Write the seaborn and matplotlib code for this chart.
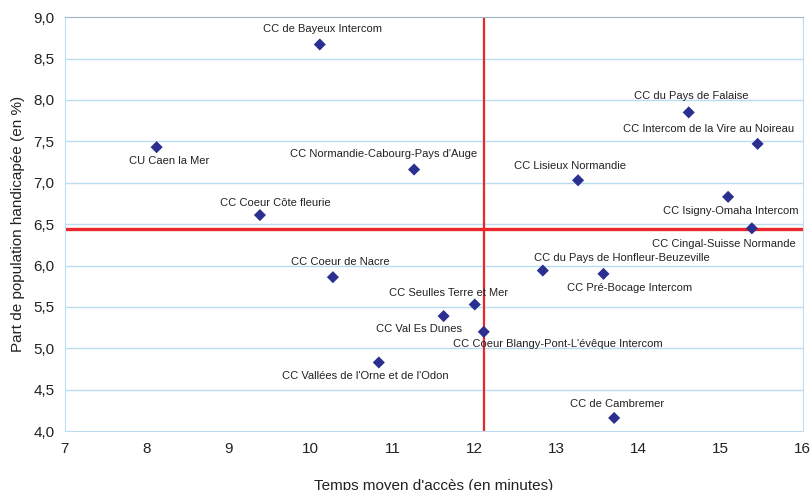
import seaborn as sns
import matplotlib.pyplot as plt
import pandas as pd
from matplotlib.ticker import FuncFormatter

# données : temps moyen d'accès (min) et part de population handicapée (%)
noms = [
    "CC de Bayeux Intercom", "CU Caen la Mer", "CC du Pays de Falaise",
    "CC Intercom de la Vire au Noireau", "CC Normandie-Cabourg-Pays d'Auge",
    "CC Lisieux Normandie", "CC Isigny-Omaha Intercom", "CC Coeur Côte fleurie",
    "CC Cingal-Suisse Normande", "CC Coeur de Nacre",
    "CC du Pays de Honfleur-Beuzeville", "CC Pré-Bocage Intercom",
    "CC Seulles Terre et Mer", "CC Val Es Dunes",
    "CC Coeur Blangy-Pont-L'évêque Intercom",
    "CC Vallées de l'Orne et de l'Odon", "CC de Cambremer",
]
temps = [10.11, 8.12, 14.61, 15.45, 11.26, 13.26, 15.09, 9.38, 15.38, 10.27,
         12.83, 13.57, 12.00, 11.62, 12.11, 10.83, 13.70]
part = [8.67, 7.43, 7.85, 7.47, 7.16, 7.03, 6.83, 6.61, 6.45, 5.86,
        5.94, 5.90, 5.53, 5.39, 5.20, 4.83, 4.16]
moy_temps = 12.11
moy_part = 6.44

# décalage des étiquettes (en points)
decalage = [(2, 11), (9, -10), (2, 12), (-35, 11), (-22, 11), (-6, 10), (2, -10),
            (11, 9), (-20, -11), (5, 11), (57, 9), (19, -10), (-19, 8), (-18, -9),
            (53, -9), (-10, -10), (2, 10)]

df = pd.DataFrame({"nom": noms, "temps": temps, "part": part})

sns.set_style("white")
plt.rcParams['font.family'] = ['Liberation Sans Narrow', 'Liberation Sans', 'DejaVu Sans']

fig = plt.figure(figsize=(8.1, 4.9), dpi=100)
ax = fig.add_axes([0.080, 0.120, 0.911, 0.845])

bleu = "#bcdcf2"
for v in [4.5, 5.0, 5.5, 6.0, 6.5, 7.0, 7.5, 8.0, 8.5]:
    ax.axhline(v, color=bleu, lw=1, zorder=0)

sns.scatterplot(data=df, x="temps", y="part", marker="D", s=38, color="#2b2f8f",
                edgecolor="none", ax=ax, zorder=3)

ax.axvline(moy_temps, color="#e8262b", lw=1.6, zorder=2)
ax.axhline(moy_part, color="#e8262b", lw=2.4, zorder=2)

for i, row in df.iterrows():
    ax.annotate(row["nom"], (row["temps"], row["part"]), xytext=decalage[i],
                textcoords="offset points", ha="center", va="center",
                fontsize=8, color="#222222")

ax.set_xlim(7, 16)
ax.set_ylim(4, 9)
ax.set_xticks(range(7, 17))
ax.set_yticks([4.0, 4.5, 5.0, 5.5, 6.0, 6.5, 7.0, 7.5, 8.0, 8.5, 9.0])
ax.yaxis.set_major_formatter(FuncFormatter(lambda v, p: f"{v:.1f}".replace(".", ",")))
ax.tick_params(axis="both", labelsize=11, colors="#222222")
ax.tick_params(axis="x", length=4, color=bleu, direction="out")
ax.tick_params(axis="y", length=4, color=bleu, direction="out")
for s in ax.spines.values():
    s.set_color(bleu)
ax.spines["top"].set_color("#9fb4c4")

ax.set_xlabel("Temps moyen d'accès (en minutes)", fontsize=11, color="#222222", labelpad=17)
ax.set_ylabel("Part de population handicapée (en %)", fontsize=11, color="#222222", labelpad=6)

plt.savefig("out.png", dpi=100)
